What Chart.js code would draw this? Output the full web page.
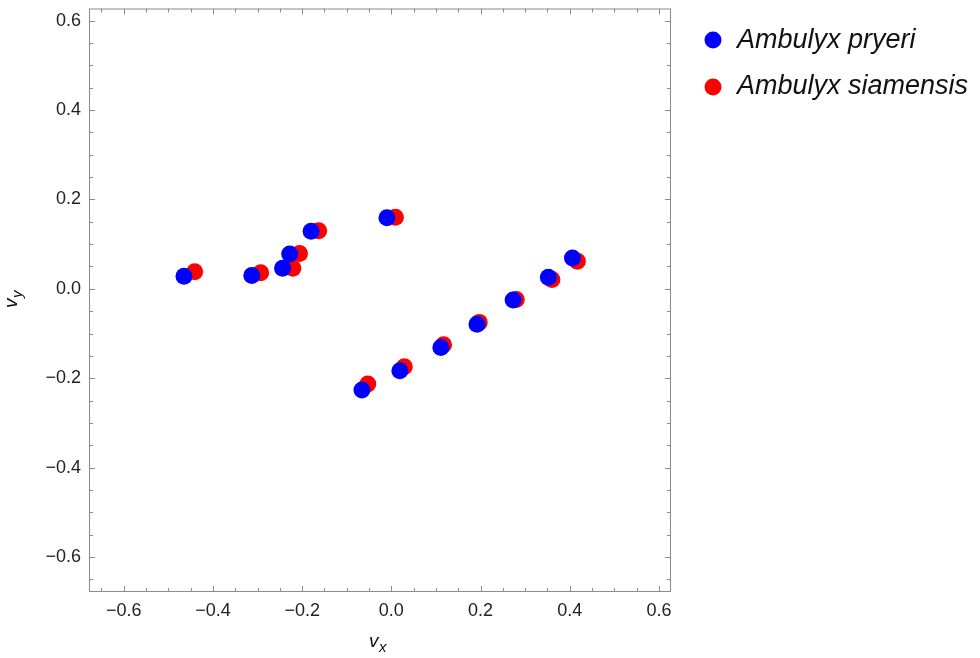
<!DOCTYPE html>
<html>
<head>
<meta charset="utf-8">
<script src="https://cdn.jsdelivr.net/npm/chart.js@4.4.1/dist/chart.umd.min.js"></script>
<style>
  html, body { margin: 0; padding: 0; background: #fff; }
  #wrap { width: 980px; height: 658px; position: relative; }
</style>
</head>
<body>
<div id="wrap"><canvas id="scatterChart" width="980" height="658"></canvas></div>
<script>
    // values
    const seriesNames = ['Ambulyx pryeri', 'Ambulyx siamensis'];
    const seriesColors = ['#0000ff', '#ff0000'];

    const pryeriX = [-0.465, -0.313, -0.244, -0.228, -0.180, -0.010, -0.066, 0.019, 0.111, 0.192, 0.273, 0.352, 0.406];
    const pryeriY = [0.028, 0.030, 0.046, 0.078, 0.129, 0.159, -0.226, -0.183, -0.131, -0.079, -0.025, 0.026, 0.069];

    const siamensisX = [-0.441, -0.293, -0.221, -0.206, -0.163, 0.009, -0.053, 0.029, 0.117, 0.197, 0.280, 0.360, 0.417];
    const siamensisY = [0.038, 0.036, 0.046, 0.079, 0.130, 0.160, -0.213, -0.174, -0.125, -0.075, -0.024, 0.021, 0.062];

    const majorTicks = [-0.6, -0.4, -0.2, 0.0, 0.2, 0.4, 0.6];
    const axisMin = -0.678;
    const axisMax = 0.627;

    const toPoints = (xs, ys) => xs.map((x, i) => ({ x: x, y: ys[i] }));
    const fmt = v => {
        const s = Math.abs(v).toFixed(1);
        return v < -1e-9 ? '\u2212' + s : s;
    };

    const FONT = '"Liberation Sans", Arial, sans-serif';
    const frameColor = '#8c8c8c';

    // frame, inward ticks, axis titles and legend (Mathematica-like)
    const framePlugin = {
        id: 'framePlugin',
        afterDraw(chart) {
            const ctx = chart.ctx;
            const a = chart.chartArea;
            const xs = chart.scales.x, ys = chart.scales.y;
            ctx.save();
            ctx.strokeStyle = frameColor;
            ctx.lineWidth = 1;
            ctx.strokeRect(a.left + 0.5, a.top + 0.5, a.right - a.left - 1, a.bottom - a.top - 1);

            ctx.beginPath();
            for (let k = -13; k <= 12; k++) {
                const v = k * 0.05;
                const major = k % 4 === 0;
                const len = major ? 6 : 4;
                const px = Math.round(xs.getPixelForValue(v)) + 0.5;
                const py = Math.round(ys.getPixelForValue(v)) + 0.5;
                if (px > a.left + 1 && px < a.right - 1) {
                    ctx.moveTo(px, a.bottom); ctx.lineTo(px, a.bottom - len);
                    ctx.moveTo(px, a.top); ctx.lineTo(px, a.top + len);
                }
                if (py > a.top + 1 && py < a.bottom - 1) {
                    ctx.moveTo(a.left, py); ctx.lineTo(a.left + len, py);
                    ctx.moveTo(a.right, py); ctx.lineTo(a.right - len, py);
                }
            }
            ctx.stroke();

            // axis titles v_x, v_y
            ctx.fillStyle = '#111';
            ctx.textBaseline = 'alphabetic';
            ctx.textAlign = 'left';
            ctx.font = 'italic 19px ' + FONT;
            ctx.fillText('v', 369, 647);
            ctx.font = 'italic 15px ' + FONT;
            ctx.fillText('x', 379, 652);

            ctx.save();
            ctx.translate(17, 308);
            ctx.rotate(-Math.PI / 2);
            ctx.font = 'italic 19px ' + FONT;
            ctx.fillText('v', 0, 0);
            ctx.font = 'italic 15px ' + FONT;
            ctx.fillText('y', 10, 5);
            ctx.restore();

            // legend
            const dotY = [40, 87];
            const textY = [48, 94];
            chart.data.datasets.forEach((ds, i) => {
                ctx.fillStyle = ds.backgroundColor;
                ctx.beginPath();
                ctx.arc(713, dotY[i], 8.5, 0, Math.PI * 2);
                ctx.fill();
                ctx.fillStyle = '#111';
                ctx.font = 'italic 27px ' + FONT;
                ctx.fillText(ds.label, 737, textY[i]);
            });
            ctx.restore();
        }
    };

    const scaleBase = {
        type: 'linear',
        min: axisMin,
        max: axisMax,
        border: { display: false },
        grid: { display: false, drawTicks: false },
        afterBuildTicks: scale => {
            scale.ticks = majorTicks.map(v => ({ value: v }));
        },
        ticks: {
            padding: 8,
            maxRotation: 0,
            minRotation: 0,
            autoSkip: false,
            color: '#222',
            font: { family: FONT, size: 18 },
            callback: v => fmt(v)
        }
    };

    const chartCanvas = document.getElementById('scatterChart').getContext('2d');
    const chart = new Chart(chartCanvas, {
        type: 'scatter',
        data: {
            datasets: [
                {
                    label: seriesNames[0],
                    data: toPoints(pryeriX, pryeriY),
                    backgroundColor: seriesColors[0],
                    borderWidth: 0,
                    pointRadius: 8.5
                },
                {
                    label: seriesNames[1],
                    data: toPoints(siamensisX, siamensisY),
                    backgroundColor: seriesColors[1],
                    borderWidth: 0,
                    pointRadius: 8.5
                }
            ]
        },
        options: {
            responsive: false,
            animation: false,
            devicePixelRatio: 1,
            layout: { padding: { left: 0, top: 7, right: 309, bottom: 0 } },
            plugins: {
                legend: { display: false },
                tooltip: { enabled: false }
            },
            scales: {
                x: Object.assign({}, scaleBase, {
                    position: 'bottom',
                    afterFit: s => {
                        s.height = 66;
                        s.paddingLeft = 0;
                        s.paddingRight = 0;
                    }
                }),
                y: Object.assign({}, scaleBase, {
                    position: 'left',
                    afterFit: s => {
                        s.width = 89;
                        s.paddingTop = 0;
                        s.paddingBottom = 0;
                    }
                })
            }
        },
        plugins: [framePlugin]
    });
</script>
</body>
</html>
